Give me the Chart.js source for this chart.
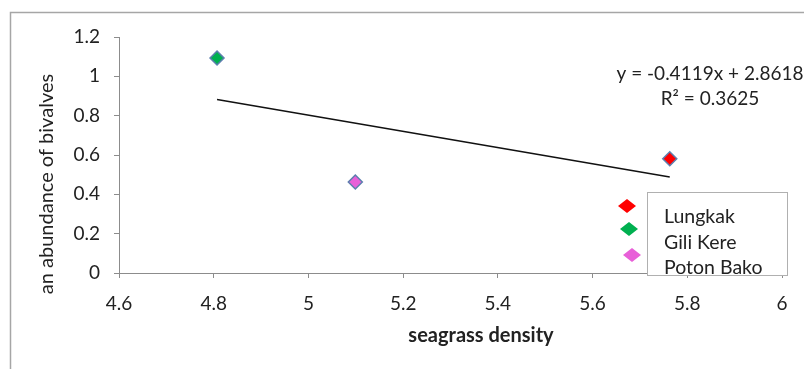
<!DOCTYPE html>
<html>
<head>
<meta charset="utf-8">
<script src="https://cdn.jsdelivr.net/npm/chart.js@4.4.1/dist/chart.umd.min.js"></script>
<style>
  body{margin:0;background:#fff;}
  canvas{display:block;}
</style>
</head>
<body>
<canvas id="chart" width="804" height="369"></canvas>
<script>
// data
const seriesNames = ['Lungkak', 'Gili Kere', 'Poton Bako'];
const seriesColors = ['#ff0000', '#00b050', '#e860d8'];
const densityX = [5.763, 4.807, 5.099];
const bivalvesY = [0.581, 1.093, 0.463];
const trendX = [4.807, 5.763];
const trendY = [0.882, 0.488];
const equationText = ['y = -0.4119x + 2.8618', 'R² = 0.3625'];
const xTitle = 'seagrass density';
const yTitle = 'an abundance of bivalves';

const fontFam = 'Lato, "Open Sans", sans-serif';
const ctx = document.getElementById('chart');

const pointSets = seriesNames.map((name, i) => ({
    label: name,
    data: [{x: densityX[i], y: bivalvesY[i]}],
    backgroundColor: seriesColors[i],
    borderColor: '#5d7fae',
    borderWidth: 1.5,
    pointStyle: 'rectRot',
    pointRadius: 7,
    pointHoverRadius: 7
}));

const trendSet = {
    type: 'line',
    label: 'trend',
    data: trendX.map((x, i) => ({x: x, y: trendY[i]})),
    borderColor: '#111',
    borderWidth: 1.5,
    pointRadius: 0,
    fill: false
};

const decor = {
    id: 'decor',
    beforeDraw: (chart) => {
        const c = chart.ctx;
        c.save();
        c.fillStyle = '#fff';
        c.fillRect(0, 0, chart.width, chart.height);
        c.strokeStyle = '#a6a6a6';
        c.lineWidth = 1.5;
        c.beginPath();
        c.moveTo(10.5, 369);
        c.lineTo(10.5, 12.5);
        c.lineTo(804, 12.5);
        c.stroke();
        c.restore();
    },
    afterDraw: (chart) => {
        const c = chart.ctx;
        c.save();
        c.fillStyle = '#222';
        // axis titles
        c.font = 'bold 20px ' + fontFam;
        c.textAlign = 'center';
        c.textBaseline = 'middle';
        c.fillText(xTitle, 481, 336);
        c.save();
        c.translate(47, 184);
        c.rotate(-Math.PI / 2);
        c.font = '20px ' + fontFam;
        c.fillText(yTitle, 0, 0);
        c.restore();
        // equation
        c.font = '19px ' + fontFam;
        c.fillText(equationText[0], 710, 74);
        c.fillText(equationText[1], 710, 99);
        // legend
        c.fillStyle = '#fff';
        c.fillRect(647, 192, 140, 83);
        c.strokeStyle = '#b0b0b0';
        c.lineWidth = 1;
        c.strokeRect(647.5, 192.5, 140, 83);
        c.beginPath();
        c.rect(647, 192, 140, 83);
        c.clip();
        c.fillStyle = '#222';
        c.textAlign = 'left';
        c.font = '19.5px ' + fontFam;
        seriesNames.forEach((n, i) => c.fillText(n, 664, 217 + i * 25.5));
        c.restore();
        c.save();
        const mk = [[627, 206], [629, 229], [632, 255]];
        mk.forEach((p, i) => {
            c.fillStyle = seriesColors[i];
            c.beginPath();
            c.moveTo(p[0], p[1] - 7);
            c.lineTo(p[0] + 9, p[1]);
            c.lineTo(p[0], p[1] + 7);
            c.lineTo(p[0] - 9, p[1]);
            c.closePath();
            c.fill();
        });
        c.restore();
    }
};

new Chart(ctx, {
    type: 'scatter',
    data: {datasets: [trendSet].concat(pointSets)},
    options: {
        responsive: false,
        animation: false,
        layout: {padding: {left: 0, right: 22, top: 37, bottom: 0}},
        plugins: {legend: {display: false}, tooltip: {enabled: false}},
        scales: {
            x: {
                type: 'linear',
                min: 4.6,
                max: 6,
                ticks: {
                    stepSize: 0.2,
                    color: '#222',
                    font: {family: fontFam, size: 19},
                    padding: 14,
                    callback: (v) => String(Number(v.toFixed(1)))
                },
                grid: {drawOnChartArea: false, color: '#8c8c8c', tickLength: 5},
                border: {color: '#8c8c8c', width: 1},
                afterFit: (s) => { s.height = 96; }
            },
            y: {
                min: 0,
                max: 1.2,
                ticks: {
                    stepSize: 0.2,
                    color: '#222',
                    font: {family: fontFam, size: 19},
                    padding: 14,
                    callback: (v) => String(Number(v.toFixed(1)))
                },
                grid: {drawOnChartArea: false, color: '#8c8c8c', tickLength: 5},
                border: {color: '#8c8c8c', width: 1},
                afterFit: (s) => { s.width = 119; }
            }
        }
    },
    plugins: [decor]
});
</script>
</body>
</html>
